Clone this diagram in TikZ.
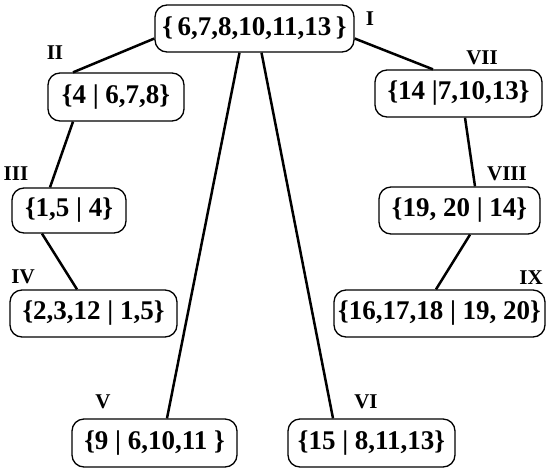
\documentclass[tikz,border=0pt]{standalone}
\usepackage{fontspec}
\setmainfont{Liberation Serif}
\begin{document}
\begin{tikzpicture}[x=1pt,y=-1pt,
  setbox/.style={draw, line width=1.3pt, rounded corners=12pt, inner sep=0pt,
    font=\bfseries\fontsize{27}{27}\selectfont},
  tag/.style={font=\bfseries\fontsize{21}{21}\selectfont, inner sep=0pt},
  link/.style={line width=2.5pt}]
\useasboundingbox (0,0) rectangle (546,472);

% sets
\node[setbox, minimum width=199pt, minimum height=47pt] (I)    at (254.5,28.5) {\{\,6,7,8,10,11,13\,\}};
\node[setbox, minimum width=136pt, minimum height=48pt] (II)   at (116,97)     {\{4 | 6,7,8\}};
\node[setbox, minimum width=114pt, minimum height=45pt] (III)  at (69,210.5)   {\{1,5 | 4\}};
\node[setbox, minimum width=167pt, minimum height=47pt] (IV)   at (93.5,313.5) {\{2,3,12 | 1,5\}};
\node[setbox, minimum width=165pt, minimum height=48pt] (V)    at (154.5,443)  {\{9 | 6,10,11 \}};
\node[setbox, minimum width=167pt, minimum height=48pt] (VI)   at (371.5,443)  {\{15 | 8,11,13\}};
\node[setbox, minimum width=167pt, minimum height=47pt] (VII)  at (458.5,93.5) {\{14 |7,10,13\}};
\node[setbox, minimum width=161pt, minimum height=47pt] (VIII) at (459.5,210.5){\{19, 20 | 14\}};
\node[setbox, minimum width=211pt, minimum height=47pt] (IX)   at (439.5,313.5){\{16,17,18 | 19, 20\}};

% roman labels
\node[tag] (lI)    at (370,19)  {I};
\node[tag] (lII)   at (55,53)   {II};
\node[tag] (lIII)  at (16,174)  {III};
\node[tag] (lIV)   at (23,277)  {IV};
\node[tag] (lV)    at (103,402) {V};
\node[tag] (lVI)   at (366,402) {VI};
\node[tag] (lVII)  at (482,58)  {VII};
\node[tag] (lVIII) at (507,174) {VIII};
\node[tag] (lIX)   at (531,278) {IX};

% tree edges
\draw[link] ([yshift=-10pt]I.west)   -- ([xshift=-43pt]II.north);
\draw[link] ([xshift=-43pt]II.south) -- ([xshift=-19pt]III.north);
\draw[link] ([xshift=-27pt]III.south) -- ([xshift=-16.5pt]IV.north);
\draw[link] ([xshift=-15pt]I.south)  -- ([xshift=12.5pt]V.north);
\draw[link] ([xshift=7pt]I.south)    -- ([xshift=-38.5pt]VI.north);
\draw[link] ([yshift=-10pt]I.east)   -- ([xshift=-25.5pt]VII.north);
\draw[link] ([xshift=6.5pt]VII.south) -- ([xshift=15.5pt]VIII.north);
\draw[link] ([xshift=10.5pt]VIII.south) -- ([xshift=-3.5pt]IX.north);
\end{tikzpicture}
\end{document}
